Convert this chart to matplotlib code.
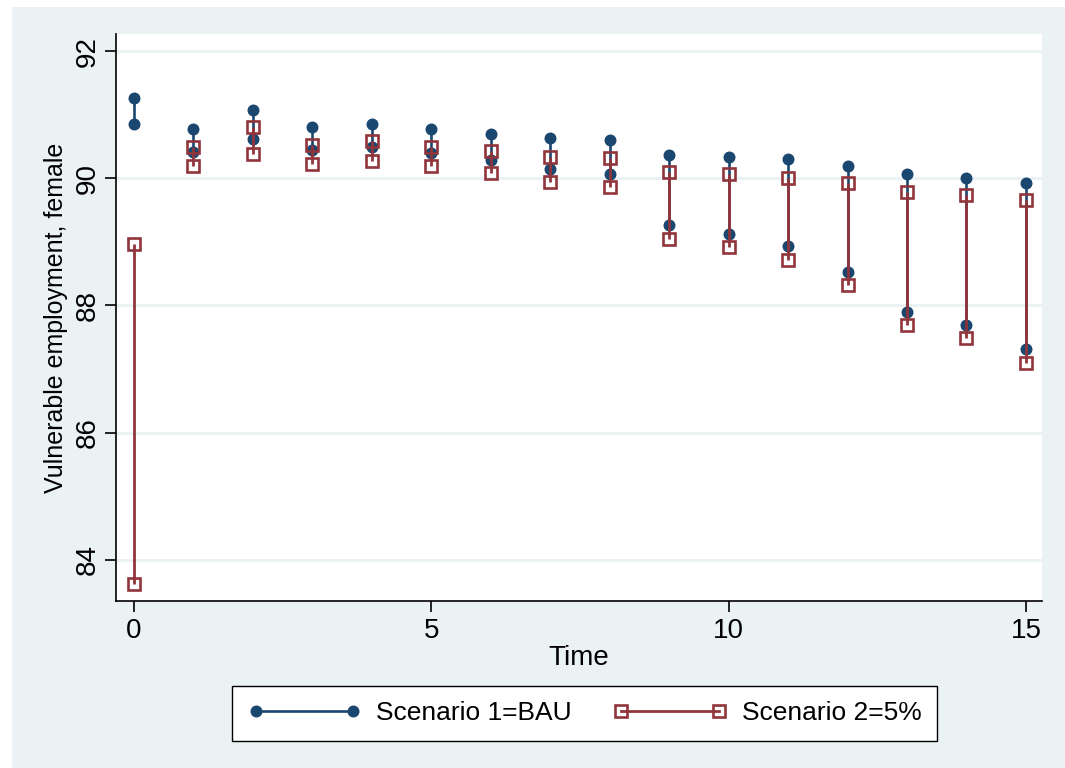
import matplotlib
matplotlib.use("Agg")
import matplotlib.pyplot as plt
from matplotlib.lines import Line2D
from matplotlib.patches import Rectangle

plt.rcParams['font.family'] = ['Liberation Sans', 'DejaVu Sans']

# Time periods and the two end values of each scenario per period
time = list(range(16))
bau_high = [91.27, 90.78, 91.07, 90.81, 90.85, 90.77, 90.70, 90.64,
            90.61, 90.37, 90.34, 90.30, 90.20, 90.06, 90.01, 89.92]
bau_low = [90.86, 90.41, 90.62, 90.45, 90.49, 90.40, 90.28, 90.15,
           90.07, 89.26, 89.12, 88.93, 88.53, 87.90, 87.69, 87.32]
s5_high = [88.97, 90.49, 90.80, 90.53, 90.58, 90.49, 90.43, 90.34,
           90.32, 90.10, 90.06, 90.00, 89.92, 89.79, 89.74, 89.66]
s5_low = [83.62, 90.19, 90.39, 90.23, 90.27, 90.19, 90.09, 89.94,
          89.86, 89.05, 88.92, 88.71, 88.32, 87.69, 87.48, 87.10]

x_ticks = [0, 5, 10, 15]
y_ticks = [84, 86, 88, 90, 92]
series_labels = ["Scenario 1=BAU", "Scenario 2=5%"]

NAVY = "#1a476f"
MAROON = "#90353b"
PANEL = "#eaf2f3"

W, H = 1065, 768
fig = plt.figure(figsize=(W / 100, H / 100), dpi=100, facecolor="white")

# graph region background
fig.patches.append(Rectangle((12 / W, 0), 1 - 12 / W, 1 - 7 / H,
                             transform=fig.transFigure, facecolor=PANEL,
                             edgecolor="none", zorder=-5))

ax = fig.add_axes([116 / W, 1 - 601 / H, (1042 - 116) / W, (601 - 34) / H])
ax.set_zorder(2)
ax.set_facecolor("white")

ax.set_xlim(-0.303, 15.27)
ax.set_ylim(83.35, 92.27)

for y in y_ticks:
    ax.axhline(y, color=PANEL, lw=2.2, zorder=1)

# Scenario 1: navy range with filled circles
ax.vlines(time, bau_low, bau_high, color=NAVY, lw=1.9, zorder=2)
ax.plot(time, bau_high, ls="none", marker="o", ms=7.6, color=NAVY, zorder=3)
ax.plot(time, bau_low, ls="none", marker="o", ms=7.6, color=NAVY, zorder=3)

# Scenario 2: maroon range with hollow squares
ax.vlines(time, s5_low, s5_high, color=MAROON, lw=2.0, zorder=4)
for vals in (s5_high, s5_low):
    ax.plot(time, vals, ls="none", marker="s", ms=8.2, mfc="none",
            mec=MAROON, mew=1.9, zorder=5)

ax.spines["top"].set_visible(False)
ax.spines["right"].set_visible(False)
for s in ("left", "bottom"):
    ax.spines[s].set_color("black")
    ax.spines[s].set_linewidth(1.2)

ax.set_xticks(x_ticks)
ax.set_yticks(y_ticks)
ax.set_yticklabels([str(v) for v in y_ticks], rotation=90, va="center")
ax.tick_params(axis="both", direction="out", length=8, width=1.2,
               colors="black", labelsize=20)
ax.tick_params(axis="y", pad=3)
ax.tick_params(axis="x", pad=4)

ax.set_xlabel("Time", fontsize=20)
ax.set_ylabel("Vulnerable employment, female", fontsize=18)
ax.xaxis.set_label_coords(0.5, -0.077)
ax.yaxis.set_label_coords(-0.052, 0.5)

handles = [
    Line2D([0], [0], color=NAVY, lw=1.9, marker="o", ms=7.6),
    Line2D([0], [0], color=MAROON, lw=2.0, marker="s", ms=8.2,
           mfc="none", mec=MAROON, mew=1.9),
]
leg = fig.legend(handles, series_labels, loc="center",
                 bbox_to_anchor=(584.5 / W, 1 - 713.5 / H), ncol=2,
                 numpoints=2, handlelength=4.3, handletextpad=0.55,
                 columnspacing=1.6, fontsize=19, frameon=True,
                 fancybox=False, borderpad=0.6, framealpha=1.0)
leg.get_frame().set_edgecolor("black")
leg.get_frame().set_linewidth(1.0)
leg.get_frame().set_facecolor("white")

fig.savefig("out.png", dpi=100, facecolor=fig.get_facecolor())
